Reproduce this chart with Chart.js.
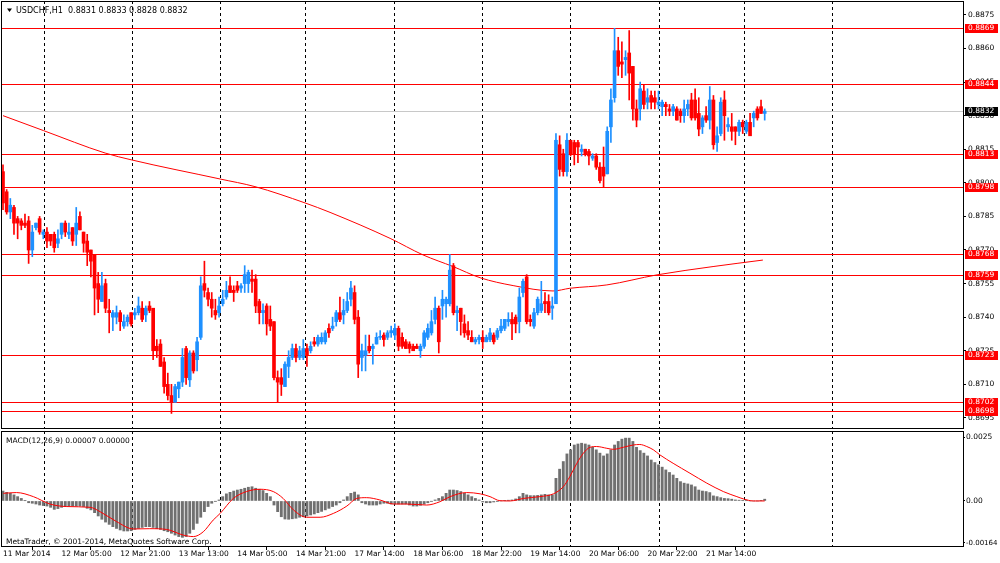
<!DOCTYPE html>
<html><head><meta charset="utf-8">
<script src="https://cdn.jsdelivr.net/npm/chart.js@4.4.0/dist/chart.umd.min.js"></script>
<style>
html,body{margin:0;padding:0;background:#fff;}
#wrap{position:relative;width:1000px;height:563px;overflow:hidden;background:#fff;}
#c1{position:absolute;left:0;top:0;}
#c2{position:absolute;left:0;top:430px;}
</style></head><body>
<div id="wrap"><canvas id="c1" width="1000" height="430"></canvas><canvas id="c2" width="1000" height="133"></canvas></div>
<script>
// ---------- DATA ----------
const opens = [
.8805,.8796,.8787,.8789,.8784,.8783,.8782,.8783,.8770,.8780,
.8784,.8777,.8778,.8777,.8777,.8773,.8777,.8782,.8777,.8780,
.8777,.8785,.8778,.8774,.8770,.8768,.8755,.8747,.8755,.8743,
.8740,.8740,.8742,.8736,.8738,.8742,.8741,.8742,.8744,.8741,
.8745,.8744,.8727,.8728,.8720,.8710,.8705,.8702,.8708,.8711,
.8726,.8712,.8724,.8721,
.8731,.8755,.8751,.8748,.8743,.8742,.8746,.8749,.8754,.8752,
.8754,.8753,.8755,.8755,.8757,.8757,.8747,.8742,.8745,.8739,
.8738,.8713,.8713,.8709,.8718,.8722,.8726,.8722,.8722,.8726,
.8725,.8729,.8728,.8729,.8729,.8735,.8735,.8738,.8742,.8741,
.8743,.8748,.8751,.8740,.8722,.8723,.8727,.8726,.8728,.8731,
.8732,.8731,.8733,
.8732,.8735,.8731,.8729,.8728,.8727,.8727,.8725,.8727,.8731,
.8733,.8739,.8744,.8745,.8746,.8746,.8763,.8742,.8744,.8737,
.8734,.8731,.8729,.8730,
.8731,.8729,.8730,.8732,.8731,.8734,.8735,.8738,.8739,.8740,
.8738,.8751,.8758,.8739,.8736,.8742,.8743,.8747,.8747,.8744,
.8746,.8817,.8813,.8805,.8819,.8818,.8818,.8814,
.8815,.8814,.8811,.8812,.8807,.8807,.8804,.8825,.8838,.8859,
.8854,.8855,.8858,.8852,.8833,.8833,.8841,.8836,.8839,.8838,
.8835,.8834,.8835,.8833,.8832,.8833,.8832,.8830,.8833,.8837,
.8837,.8831,.8825,.8830,.8828,.8837,.8818,.8822,.8837,.8825,
.8825,.8825,.8823,.8827,.8823,.8827,.8829,.8833,.8834,.8831];
const highs = [
.8808,.8797,.8793,.8790,.8785,.8784,.8786,.8785,.8781,.8782,
.8785,.8779,.8780,.8777,.8778,.8779,.8782,.8783,.8782,.8780,
.8789,.8787,.8778,.8777,.8770,.8768,.8760,.8760,.8757,.8748,
.8743,.8745,.8743,.8741,.8741,.8742,.8744,.8749,.8747,.8745,
.8747,.8744,.8730,.8730,.8722,.8715,.8710,.8710,.8711,.8726,
.8727,.8725,.8725,.8731,
.8758,.8765,.8753,.8751,.8748,.8749,.8752,.8756,.8758,.8754,
.8756,.8755,.8763,.8761,.8761,.8759,.8748,.8746,.8746,.8745,
.8738,.8716,.8717,.8720,.8725,.8728,.8728,.8727,.8730,.8728,
.8729,.8731,.8732,.8733,.8734,.8737,.8740,.8743,.8749,.8748,
.8751,.8756,.8754,.8743,.8728,.8732,.8732,.8728,.8733,.8734,
.8733,.8734,.8736,
.8737,.8736,.8733,.8730,.8729,.8728,.8728,.8728,.8734,.8737,
.8743,.8749,.8745,.8752,.8749,.8768,.8764,.8745,.8744,.8741,
.8738,.8734,.8731,.8732,
.8734,.8732,.8735,.8733,.8735,.8739,.8739,.8742,.8742,.8741,
.8753,.8757,.8759,.8741,.8744,.8749,.8756,.8751,.8750,.8749,
.8822,.8821,.8815,.8822,.8819,.8819,.8819,.8817,
.8815,.8815,.8813,.8813,.8809,.8816,.8825,.8842,.8869,.8865,
.8863,.8859,.8868,.8852,.8837,.8845,.8844,.8842,.8841,.8841,
.8841,.8837,.8836,.8835,.8835,.8834,.8833,.8837,.8837,.8840,
.8842,.8838,.8830,.8834,.8843,.8839,.8825,.8838,.8841,.8829,
.8831,.8825,.8828,.8828,.8828,.8831,.8832,.8834,.8837,.8833];
const lows = [
.8788,.8786,.8784,.8777,.8775,.8779,.8780,.8764,.8767,.8779,
.8777,.8775,.8771,.8772,.8769,.8771,.8775,.8776,.8775,.8772,
.8772,.8779,.8769,.8763,.8758,.8741,.8742,.8747,.8742,.8733,
.8734,.8737,.8734,.8735,.8736,.8736,.8739,.8741,.8738,.8738,
.8742,.8721,.8722,.8718,.8706,.8703,.8697,.8702,.8704,.8709,
.8710,.8709,.8715,.8716,
.8730,.8749,.8745,.8740,.8739,.8740,.8745,.8748,.8751,.8747,
.8751,.8751,.8751,.8751,.8751,.8742,.8737,.8737,.8732,.8734,
.8712,.8702,.8705,.8709,.8713,.8721,.8720,.8721,.8721,.8718,
.8724,.8727,.8727,.8728,.8728,.8731,.8734,.8736,.8738,.8737,
.8742,.8745,.8737,.8713,.8716,.8716,.8724,.8719,.8728,.8730,
.8727,.8730,.8731,
.8730,.8725,.8726,.8726,.8724,.8725,.8726,.8722,.8726,.8730,
.8732,.8737,.8724,.8739,.8740,.8745,.8741,.8734,.8732,.8731,
.8730,.8729,.8728,.8728,
.8726,.8729,.8729,.8728,.8730,.8733,.8734,.8736,.8730,.8733,
.8733,.8749,.8737,.8736,.8735,.8741,.8742,.8742,.8741,.8739,
.8746,.8803,.8803,.8803,.8812,.8808,.8809,.8812,
.8812,.8808,.8810,.8806,.8800,.8798,.8804,.8818,.8836,.8848,
.8847,.8848,.8837,.8828,.8825,.8828,.8833,.8833,.8833,.8833,
.8833,.8830,.8830,.8830,.8830,.8828,.8827,.8827,.8830,.8828,
.8828,.8821,.8822,.8827,.8824,.8815,.8814,.8821,.8819,.8823,
.8819,.8817,.8821,.8822,.8822,.8821,.8825,.8828,.8831,.8828];
const closes = [
.8791,.8787,.8790,.8782,.8782,.8781,.8781,.8770,.8778,.8782,
.8778,.8778,.8774,.8774,.8771,.8775,.8782,.8778,.8778,.8774,
.8782,.8779,.8773,.8769,.8765,.8753,.8748,.8754,.8744,.8742,
.8742,.8742,.8738,.8738,.8740,.8737,.8742,.8745,.8739,.8744,
.8743,.8725,.8725,.8718,.8709,.8705,.8702,.8709,.8711,.8722,
.8713,.8724,.8716,.8729,
.8754,.8752,.8748,.8744,.8741,.8745,.8748,.8752,.8751,.8751,
.8752,.8754,.8759,.8760,.8756,.8745,.8742,.8743,.8737,.8736,
.8713,.8711,.8710,.8719,.8722,.8726,.8722,.8725,.8726,.8723,
.8727,.8728,.8731,.8731,.8733,.8733,.8736,.8742,.8739,.8743,
.8747,.8753,.8739,.8719,.8725,.8725,.8725,.8727,.8731,.8731,
.8730,.8733,.8734,
.8735,.8727,.8727,.8726,.8726,.8725,.8726,.8727,.8733,.8735,
.8738,.8744,.8729,.8748,.8748,.8761,.8742,.8743,.8738,.8733,
.8732,.8729,.8730,.8731,
.8729,.8731,.8733,.8729,.8734,.8736,.8739,.8739,.8737,.8737,
.8749,.8756,.8738,.8738,.8742,.8748,.8746,.8746,.8742,.8745,
.8819,.8806,.8805,.8819,.8813,.8813,.8816,.8815,
.8813,.8812,.8812,.8807,.8801,.8803,.8823,.8837,.8859,.8852,
.8853,.8856,.8849,.8833,.8828,.8842,.8835,.8838,.8836,.8836,
.8836,.8836,.8834,.8832,.8834,.8828,.8830,.8833,.8835,.8829,
.8829,.8824,.8829,.8828,.8837,.8817,.8821,.8836,.8830,.8826,
.8823,.8823,.8827,.8825,.8827,.8821,.8831,.8829,.8831,.8832];

// moving average read at bar positions
const maIdx = [0, 11.1, 27.9, 35.2, 59.3, 68.8, 82.5, 89.3, 105.7, 114.7, 122.9, 130.3, 139.3, 150.2, 154.8, 164.9, 178.6, 193.9, 207.5];
const maVal = [0.88300, 0.88233, 0.88133, 0.88102, 0.88017, 0.87983, 0.87910, 0.87868, 0.87752, 0.87678, 0.87626, 0.87576, 0.87541, 0.87517, 0.87529, 0.87544, 0.87589, 0.87626, 0.87655];

// MACD histogram (one per bar)
const macdHist = [
0.00039,0.00034,0.00030,0.00024,0.00017,0.00010,0.00001,-0.00007,-0.00009,-0.00012,
-0.00016,-0.00018,-0.00020,-0.00025,-0.00033,-0.00030,-0.00025,-0.00022,-0.00020,-0.00020,
-0.00020,-0.00020,-0.00022,-0.00029,-0.00035,-0.00046,-0.00059,-0.00072,-0.00083,-0.00092,
-0.00101,-0.00108,-0.00114,-0.00118,-0.00118,-0.00117,-0.00112,-0.00108,-0.00104,-0.00101,
-0.00101,-0.00104,-0.00109,-0.00112,-0.00117,-0.00121,-0.00127,-0.00134,-0.00140,-0.00143,
-0.00140,-0.00127,-0.00112,-0.00088,-0.00064,-0.00042,-0.00022,-0.00009,-0.00001,0.00004,
0.00017,0.00028,0.00034,0.00039,0.00043,0.00046,0.00050,0.00054,0.00056,0.00050,
0.00046,0.00041,0.00030,0.00017,-0.00016,-0.00042,-0.00062,-0.00071,-0.00072,-0.00070,
-0.00068,-0.00064,-0.00062,-0.00059,-0.00055,-0.00051,-0.00046,-0.00041,-0.00035,-0.00029,
-0.00022,-0.00016,-0.00007,0.00004,0.00017,0.00030,0.00035,0.00024,-0.00007,-0.00012,
-0.00016,-0.00016,-0.00016,-0.00012,-0.00009,-0.00009,-0.00012,-0.00012,-0.00012,-0.00012,
-0.00012,-0.00016,-0.00020,-0.00020,-0.00017,-0.00012,-0.00007,-0.00001,0.00004,0.00010,
0.00017,0.00030,0.00043,0.00043,0.00041,0.00037,0.00030,0.00024,0.00017,0.00010,
0.00004,-0.00004,-0.00007,-0.00007,-0.00004,-0.00001,
0.00000,0.00001,0.00003,0.00004,0.00008,0.00017,0.00030,0.00024,0.00021,0.00021,
0.00022,0.00024,0.00026,0.00024,0.00024,0.00089,0.00125,0.00155,0.00185,0.00201,
0.00220,0.00224,0.00227,0.00224,0.00220,0.00211,0.00201,0.00188,0.00177,0.00185,
0.00201,0.00220,0.00234,0.00243,0.00247,0.00247,0.00234,0.00211,0.00198,0.00188,
0.00177,0.00161,0.00151,0.00142,0.00133,0.00122,0.00112,0.00102,0.00089,0.00076,
0.00070,0.00067,0.00063,0.00056,0.00043,0.00039,0.00037,0.00033,0.00020,0.00017,
0.00013,0.00010,0.00009,0.00007,0.00004,0.00003,0.00001,0.00001,0.00000,0.00000,
0.00000,0.00001,0.00007];

// MACD signal line, read at bar positions
const sigIdx = [0.1,3.7,8.3,12.8,17.4,23.8,26.5,31.0,35.6,40.1,44.7,49.2,52.0,54.7,57.4,59.3,62.9,66.5,70.2,73.8,76.5,79.3,82.9,86.6,90.2,93.9,96.6,99.3,102.9,106.6,110.2,115.7,119.3,122.1,126.6,130.3,133.0,135.7,138.5,140.3,142.1,146.6,150.3,153.0,154.8,156.7,158.5,160.3,162.1,164.9,166.7,169.4,172.1,173.9,175.8,177.6,179.4,183.0,187.6,192.2,196.7,200.4,202.2,204.9,208.0];
const sigVal = [0.00030,0.00033,0.00017,-0.00012,-0.00022,-0.00025,-0.00042,-0.00081,-0.00110,-0.00109,-0.00112,-0.00134,-0.00140,-0.00121,-0.00075,-0.00049,0.00010,0.00037,0.00046,0.00037,0.00010,-0.00035,-0.00064,-0.00064,-0.00049,-0.00020,0.00010,0.00013,0.00004,-0.00012,-0.00012,-0.00016,-0.00003,0.00017,0.00033,0.00028,0.00017,0.00001,0.00000,0.00004,0.00010,0.00017,0.00028,0.00056,0.00096,0.00148,0.00188,0.00211,0.00214,0.00207,0.00203,0.00211,0.00220,0.00222,0.00214,0.00201,0.00181,0.00148,0.00109,0.00070,0.00037,0.00017,0.00008,0.00000,0.00000];

// horizontal levels and ticks
const levels = [0.8869, 0.8844, 0.8813, 0.8798, 0.8768, 0.8759, 0.8723, 0.8702, 0.8698];
const bidLevel = 0.8832;
const priceTicks = [0.8695,0.8710,0.8725,0.8740,0.8755,0.8770,0.8785,0.8800,0.8815,0.8830,0.8845,0.8860,0.8875];
const macdTicks = [-0.00164, 0, 0.0025];
const macdTickLabels = ['-0.00164', '0.00', '0.0025'];
const labelIdx = [0,16,32,48,64,80,96,112,128,144,160,176,192];
const timeLabels = ['11 Mar 2014','12 Mar 05:00','12 Mar 21:00','13 Mar 13:00','14 Mar 05:00','14 Mar 21:00','17 Mar 14:00','18 Mar 06:00','18 Mar 22:00','19 Mar 14:00','20 Mar 06:00','20 Mar 22:00','21 Mar 14:00'];
const daySepIdx = [11.1,35.3,59.3,82.5,106.7,130.7,154.9,179.1,202.3,226.3];
const headerText = 'USDCHF,H1  0.8831 0.8833 0.8828 0.8832';
const macdHeader = 'MACD(12,26,9) 0.00007 0.00000';
const copyright = 'MetaTrader, \u00A9 2001-2014, MetaQuotes Software Corp.';

// ---------- STYLE ----------
const BLUE = '#1e90ff', RED = '#ff0000';
const FONT = '"DejaVu Sans", sans-serif';
const FS = 7.5;
Chart.defaults.font.family = FONT;
Chart.defaults.font.size = FS;
Chart.defaults.color = '#000';
const xMin = -0.546, xMax = 262.15;

const n = Math.min(opens.length, highs.length, lows.length, closes.length);
const bodies = [], wicks = [];
for (let i = 0; i < n; i++) {
  bodies.push({x: i, y: [opens[i], closes[i]]});
  wicks.push({x: i, y: [lows[i], highs[i]]});
}
const candleColor = c => (closes[c.dataIndex] >= opens[c.dataIndex] ? BLUE : RED);

function drawDaySeps(chart) {
  const {ctx, chartArea: a, scales: {x}} = chart;
  ctx.save();
  ctx.strokeStyle = '#000'; ctx.lineWidth = 1; ctx.setLineDash([3, 3]);
  for (const d of daySepIdx) {
    const px = Math.round(x.getPixelForValue(d)) + 0.5;
    if (px < a.left || px > a.right) continue;
    ctx.beginPath(); ctx.moveTo(px, a.top); ctx.lineTo(px, a.bottom); ctx.stroke();
  }
  ctx.restore();
}
function drawFrame(chart) {
  const {ctx, chartArea: a} = chart;
  ctx.save();
  ctx.strokeStyle = '#000'; ctx.lineWidth = 1;
  ctx.strokeRect(a.left + 0.5, a.top + 0.5, a.right - a.left, a.bottom - a.top);
  ctx.restore();
}

const mainPlugin = {
  id: 'mainDecor',
  beforeDatasetsDraw(chart) {
    const {ctx, chartArea: a, scales: {y}} = chart;
    drawDaySeps(chart);
    ctx.save();
    ctx.lineWidth = 1;
    ctx.strokeStyle = '#c8c8c8';
    let yy = Math.round(y.getPixelForValue(bidLevel)) + 0.5;
    ctx.beginPath(); ctx.moveTo(a.left, yy); ctx.lineTo(a.right, yy); ctx.stroke();
    ctx.strokeStyle = RED;
    for (const lv of levels) {
      yy = Math.round(y.getPixelForValue(lv)) + 0.5;
      ctx.beginPath(); ctx.moveTo(a.left, yy); ctx.lineTo(a.right, yy); ctx.stroke();
    }
    ctx.restore();
  },
  afterDraw(chart) {
    const {ctx, chartArea: a, scales: {y}} = chart;
    drawFrame(chart);
    ctx.save();
    ctx.font = FS + 'px ' + FONT;
    ctx.textBaseline = 'middle';
    const boxL = a.right + 2, boxW = 33;
    const drawBox = (v, bg) => {
      const yy = Math.round(y.getPixelForValue(v));
      ctx.fillStyle = bg; ctx.fillRect(boxL, yy - 4, boxW, 9);
      ctx.fillStyle = '#fff'; ctx.fillText(v.toFixed(4), boxL + 3, yy + 0.5);
    };
    drawBox(bidLevel, '#000');
    for (const lv of levels) drawBox(lv, RED);
    // header
    ctx.fillStyle = '#000';
    ctx.beginPath(); ctx.moveTo(7, 8.5); ctx.lineTo(12, 8.5); ctx.lineTo(9.5, 12); ctx.closePath(); ctx.fill();
    ctx.textBaseline = 'alphabetic';
    ctx.font = '8px ' + FONT;
    ctx.fillText(headerText, 16, 12.5);
    ctx.restore();
  }
};

const macdPlugin = {
  id: 'macdDecor',
  beforeDatasetsDraw(chart) { drawDaySeps(chart); },
  afterDraw(chart) {
    const {ctx} = chart;
    drawFrame(chart);
    ctx.save();
    ctx.font = FS + 'px ' + FONT;
    ctx.fillStyle = '#000';
    ctx.textBaseline = 'alphabetic';
    ctx.fillText(macdHeader, 6, 13);
    ctx.fillText(copyright, 6, 114);
    ctx.restore();
  }
};

new Chart(document.getElementById('c1'), {
  type: 'bar',
  data: {datasets: [
    {type: 'bar', data: bodies, backgroundColor: candleColor, barThickness: 3, grouped: false, minBarLength: 1, borderWidth: 0, order: 1},
    {type: 'bar', data: wicks, backgroundColor: candleColor, barThickness: 1, grouped: false, borderWidth: 0, order: 2},
    {type: 'line', data: maIdx.map((v, i) => ({x: v, y: maVal[i]})), borderColor: RED, borderWidth: 1, pointRadius: 0, cubicInterpolationMode: 'monotone', order: 3}
  ]},
  options: {
    responsive: false, animation: false,
    layout: {padding: {left: 1, top: 1, right: 0, bottom: 2}},
    plugins: {legend: {display: false}, tooltip: {enabled: false}},
    scales: {
      x: {type: 'linear', min: xMin, max: xMax, offset: false, display: false,
          afterFit(s) { s.paddingLeft = 0; s.paddingRight = 0; }},
      y: {type: 'linear', position: 'right', min: 0.86905, max: 0.88812, beginAtZero: false,
          afterBuildTicks(s) { s.ticks = priceTicks.map(v => ({value: v})); },
          afterFit(s) { s.width = 37; s.paddingTop = 0; s.paddingBottom = 0; },
          ticks: {autoSkip: false, color: '#000', padding: 2, callback: v => Number(v).toFixed(4)},
          grid: {drawOnChartArea: false, drawTicks: true, tickLength: 3, color: '#000'},
          border: {display: true, color: '#000'}}
    }
  },
  plugins: [mainPlugin]
});

new Chart(document.getElementById('c2'), {
  type: 'bar',
  data: {datasets: [
    {type: 'line', data: sigIdx.map((v, i) => ({x: v, y: sigVal[i]})), borderColor: RED, borderWidth: 1, pointRadius: 0, cubicInterpolationMode: 'monotone', order: 1},
    {type: 'bar', data: macdHist.map((v, i) => ({x: i, y: v})), backgroundColor: '#707070', barThickness: 2.2, grouped: false, borderWidth: 0, order: 2}
  ]},
  options: {
    responsive: false, animation: false,
    layout: {padding: {left: 1, top: 1, right: 0, bottom: 0}},
    plugins: {legend: {display: false}, tooltip: {enabled: false}},
    scales: {
      x: {type: 'linear', position: 'bottom', min: xMin, max: xMax, offset: false,
          afterBuildTicks(s) { s.ticks = labelIdx.map(v => ({value: v})); },
          afterFit(s) { s.height = 17; s.paddingLeft = 0; s.paddingRight = 0; },
          ticks: {autoSkip: false, maxRotation: 0, minRotation: 0, align: 'start', padding: 0, color: '#000',
                  callback: (v, i) => timeLabels[i]},
          grid: {drawOnChartArea: false, drawTicks: true, tickLength: 4, color: '#000'},
          border: {display: true, color: '#000'}},
      y: {type: 'linear', position: 'right', min: -0.00177, max: 0.00275, beginAtZero: false,
          afterBuildTicks(s) { s.ticks = macdTicks.map(v => ({value: v})); },
          afterFit(s) { s.width = 37; s.paddingTop = 0; s.paddingBottom = 0; },
          ticks: {autoSkip: false, color: '#000', padding: 1,
                  font: c => ({family: FONT, size: (c.tick && c.tick.value < 0) ? 7 : FS}),
                  callback: (v, i) => macdTickLabels[i]},
          grid: {drawOnChartArea: false, drawTicks: true, tickLength: 2, color: '#000'},
          border: {display: true, color: '#000'}}
    }
  },
  plugins: [macdPlugin]
});
</script>
</body></html>
